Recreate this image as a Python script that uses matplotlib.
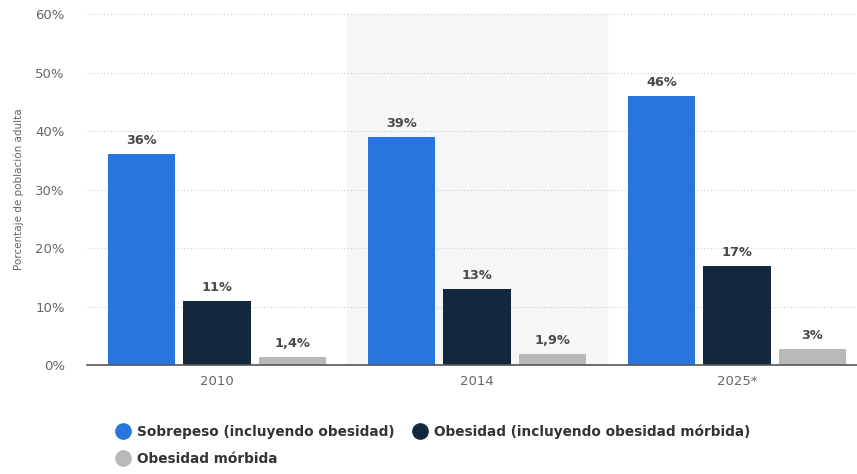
import matplotlib.pyplot as plt
from matplotlib.lines import Line2D
import numpy as np

# Data
years = ['2010', '2014', '2025*']
sobrepeso = [36, 39, 46]
obesidad = [11, 13, 17]
morbida = [1.4, 1.9, 2.8]
sobrepeso_labels = ['36%', '39%', '46%']
obesidad_labels = ['11%', '13%', '17%']
morbida_labels = ['1,4%', '1,9%', '3%']
series_names = ['Sobrepeso (incluyendo obesidad)',
                'Obesidad (incluyendo obesidad mórbida)',
                'Obesidad mórbida']
colors = ['#2876dd', '#13273d', '#b9b9b9']

plt.rcParams['font.family'] = ['DejaVu Sans']

fig = plt.figure(figsize=(8.57, 4.74), dpi=100)
ax = fig.add_axes([87 / 857, 1 - 365 / 474, 770 / 857, (365 - 14) / 474])

x = np.arange(len(years))
width = 0.258
offset = 0.29

# shaded band behind the middle group
ax.axvspan(0.5, 1.5, color='#f6f6f6', zorder=0)

groups = [(sobrepeso, sobrepeso_labels), (obesidad, obesidad_labels), (morbida, morbida_labels)]
for i, (vals, labs) in enumerate(groups):
    bars = ax.bar(x + (i - 1) * offset, vals, width, color=colors[i], zorder=3)
    for bar, lab in zip(bars, labs):
        ax.annotate(lab, (bar.get_x() + bar.get_width() / 2, bar.get_height()),
                    xytext=(0, 5), textcoords='offset points', ha='center', va='bottom',
                    fontsize=9.3, fontweight='bold', color='#4a4a4a', zorder=4)

ax.set_xlim(-0.5, (857 - 217) / 260)
ax.set_ylim(0, 60)
ax.set_yticks(range(0, 61, 10))
ax.set_yticklabels([f'{v}%' for v in range(0, 61, 10)])
ax.set_xticks(x)
ax.set_xticklabels(years)
ax.tick_params(axis='both', length=0, labelsize=9.5, labelcolor='#666666')
ax.tick_params(axis='y', pad=16)
ax.tick_params(axis='x', pad=7)
ax.grid(axis='y', linestyle=(0, (1, 2)), color='#cfcfcf', linewidth=0.8, zorder=1)
for side in ['top', 'right', 'left']:
    ax.spines[side].set_visible(False)
ax.spines['bottom'].set_color('#555555')
ax.spines['bottom'].set_linewidth(1.2)
ax.spines['bottom'].set_zorder(5)

ax.set_ylabel('Porcentaje de población adulta', fontsize=7.5, color='#666666', labelpad=8)

# legend, column-major order
order = [0, 2, 1]
handles = [Line2D([], [], marker='o', linestyle='', markersize=11, color=colors[k]) for k in order]
fig.legend(handles, [series_names[k] for k in order], ncol=2, frameon=False,
           loc='upper left', bbox_to_anchor=(103 / 857, 1 - 412 / 474),
           prop={'size': 9.8, 'weight': 'bold'}, labelcolor='#333333',
           handletextpad=0.4, columnspacing=1.3, labelspacing=0.95, handlelength=1.2)

fig.savefig('out.png', dpi=100)
